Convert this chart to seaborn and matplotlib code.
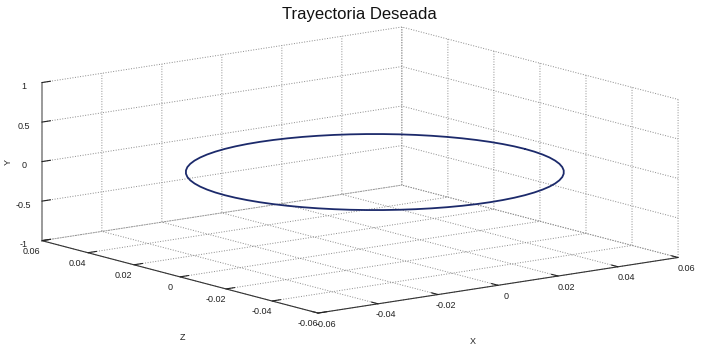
import matplotlib
matplotlib.use("Agg")
import matplotlib.pyplot as plt
import seaborn as sns
import numpy as np

# ---- data ----
traj_x = [0.05, 0.04981, 0.04924, 0.04830, 0.04698, 0.04532, 0.04330, 0.04096, 0.03830,
          0.03536, 0.03214, 0.02868, 0.025, 0.02113, 0.01710, 0.01294, 0.00868, 0.00436, 0.0,
          -0.00436, -0.00868, -0.01294, -0.01710, -0.02113, -0.025, -0.02868, -0.03214,
          -0.03536, -0.03830, -0.04096, -0.04330, -0.04532, -0.04698, -0.04830, -0.04924,
          -0.04981, -0.05,
          -0.04981, -0.04924, -0.04830, -0.04698, -0.04532, -0.04330, -0.04096, -0.03830,
          -0.03536, -0.03214, -0.02868, -0.025, -0.02113, -0.01710, -0.01294, -0.00868,
          -0.00436, 0.0,
          0.00436, 0.00868, 0.01294, 0.01710, 0.02113, 0.025, 0.02868, 0.03214, 0.03536,
          0.03830, 0.04096, 0.04330, 0.04532, 0.04698, 0.04830, 0.04924, 0.04981, 0.05]
traj_z = [0.0, 0.00436, 0.00868, 0.01294, 0.01710, 0.02113, 0.025, 0.02868, 0.03214,
          0.03536, 0.03830, 0.04096, 0.04330, 0.04532, 0.04698, 0.04830, 0.04924, 0.04981, 0.05,
          0.04981, 0.04924, 0.04830, 0.04698, 0.04532, 0.04330, 0.04096, 0.03830, 0.03536,
          0.03214, 0.02868, 0.025, 0.02113, 0.01710, 0.01294, 0.00868, 0.00436, 0.0,
          -0.00436, -0.00868, -0.01294, -0.01710, -0.02113, -0.025, -0.02868, -0.03214,
          -0.03536, -0.03830, -0.04096, -0.04330, -0.04532, -0.04698, -0.04830, -0.04924,
          -0.04981, -0.05,
          -0.04981, -0.04924, -0.04830, -0.04698, -0.04532, -0.04330, -0.04096, -0.03830,
          -0.03536, -0.03214, -0.02868, -0.025, -0.02113, -0.01710, -0.01294, -0.00868,
          -0.00436, 0.0]
traj_y = [0.0] * len(traj_x)
center_x = 0.0015
center_z = -0.0045

xz_ticks = [-0.06, -0.04, -0.02, 0, 0.02, 0.04, 0.06]
xz_labels = ["-0.06", "-0.04", "-0.02", "0", "0.02", "0.04", "0.06"]
y_ticks = [-1, -0.5, 0, 0.5, 1]
y_labels = ["-1", "-0.5", "0", "0.5", "1"]

# ---- style ----
sns.set_style("white")
plt.rcParams["font.family"] = ["Liberation Sans", "DejaVu Sans"]
plt.rcParams["axes.unicode_minus"] = False
plt.rcParams["grid.linestyle"] = ":"
plt.rcParams["grid.color"] = "#8a8a8a"
plt.rcParams["grid.linewidth"] = 0.7

fig = plt.figure(figsize=(7.03, 3.51), dpi=100)
ax = fig.add_axes([0.02745, 0.1251, 0.9437, 0.7604], projection="3d")
ax.apply_aspect = lambda position=None: None  # stretch to fill like MATLAB

ax.set_proj_type("ortho")
ax.view_init(elev=30, azim=-127.5)
ax.set_box_aspect((1, 1, 1), zoom=1.15)

px = np.asarray(traj_x) + center_x
pz = np.asarray(traj_z) + center_z
ax.plot(px, pz, traj_y, color="#1c2a6b", lw=1.3)

ax.set_xlim(-0.06, 0.06)
ax.set_ylim(-0.06, 0.06)
ax.set_zlim(-1, 1)
ax.set_xticks(xz_ticks)
ax.set_xticklabels(xz_labels)
ax.set_yticks(xz_ticks)
ax.set_yticklabels(xz_labels)
ax.set_zticks(y_ticks)
ax.set_zticklabels(y_labels)

for axis in (ax.xaxis, ax.yaxis, ax.zaxis):
    axis.set_pane_color((1, 1, 1, 0))
    axis.pane.set_edgecolor((1, 1, 1, 0))
    axis.line.set_color("#333333")
    axis.line.set_linewidth(0.8)
    axis._axinfo["grid"].update({"linestyle": ":", "color": "#8a8a8a", "linewidth": 0.7})
    axis._axinfo["tick"]["inward_factor"] = 0.0
    axis._axinfo["tick"]["outward_factor"] = 0.3
ax.zaxis.line.set_color("#9a9a9a")
ax.zaxis.line.set_linewidth(1.4)

ax.tick_params(axis="both", labelsize=6.5, pad=-3, colors="#222222")
ax.grid(True)

ax.set_xlabel("")
ax.set_ylabel("")
ax.set_zlabel("")
fig.text(473 / 703, 1 - 342 / 351, "X", ha="center", va="center", fontsize=6.5, color="#222222")
fig.text(183 / 703, 1 - 337 / 351, "Z", ha="center", va="center", fontsize=6.5, color="#222222")
fig.text(8 / 703, 1 - 162 / 351, "Y", ha="center", va="center", fontsize=6.5,
         rotation=90, color="#222222")

fig.text(359 / 703, 1 - 15 / 351, "Trayectoria Deseada", ha="center", va="center",
         fontsize=12, color="#111111")

fig.savefig("out.png", dpi=100)
